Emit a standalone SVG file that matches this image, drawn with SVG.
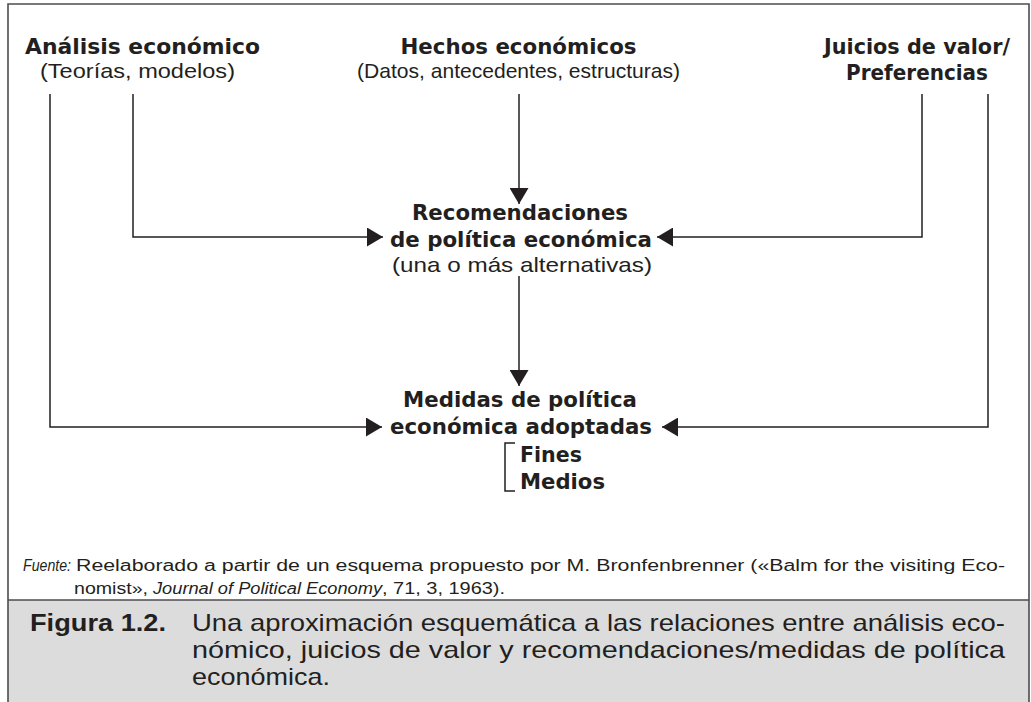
<svg xmlns="http://www.w3.org/2000/svg" width="1031" height="702" viewBox="0 0 1031 702">
<style>
.b{font-family:"DejaVu Sans","Liberation Sans",sans-serif;font-weight:bold;font-size:20.5px;fill:#231f20;text-anchor:middle}
.r{font-family:"Liberation Sans",Arial,sans-serif;font-size:21px;fill:#231f20;text-anchor:middle}
.s{font-family:"Liberation Sans",Arial,sans-serif;font-size:16px;fill:#231f20}
.i{font-style:italic}
.c{font-family:"Liberation Sans",Arial,sans-serif;font-size:24px;fill:#231f20}
.cb{font-weight:bold}
.ln{fill:none;stroke:#231f20;stroke-width:1.5}
.fr{fill:none;stroke:#4d4d4f;stroke-width:1.6}
</style>
<defs>
<marker id="ah" markerUnits="userSpaceOnUse" markerWidth="17" markerHeight="19" refX="16" refY="9.5" orient="auto">
<path d="M0,0 L16,9.5 L0,19 z" fill="#231f20"/>
</marker>
</defs>
<rect x="0" y="0" width="1031" height="702" fill="#ffffff"/>
<g id="frame">
<rect x="8" y="600" width="1021" height="102" fill="#dcdcdd"/>
<path class="fr" d="M8,702 V4 H1029 V702"/>
<path class="fr" d="M8,600 H1029"/>
</g>
<g id="connectors">
<path class="ln" d="M133,94 V237 H383" marker-end="url(#ah)"/>
<path class="ln" d="M50,94 V427 H382" marker-end="url(#ah)"/>
<path class="ln" d="M519,94 V204" marker-end="url(#ah)"/>
<path class="ln" d="M922,94 V237 H657" marker-end="url(#ah)"/>
<path class="ln" d="M988,94 V427 H662" marker-end="url(#ah)"/>
<path class="ln" d="M519,276 V386" marker-end="url(#ah)"/>
</g>
<g id="analisis">
<text class="b" x="142.5" y="54" textLength="235" lengthAdjust="spacingAndGlyphs">Análisis económico</text>
<text class="r" x="137.5" y="78" textLength="195" lengthAdjust="spacingAndGlyphs">(Teorías, modelos)</text>
</g>
<g id="hechos">
<text class="b" x="518.5" y="54" textLength="236" lengthAdjust="spacingAndGlyphs">Hechos económicos</text>
<text class="r" x="518.5" y="78" textLength="323" lengthAdjust="spacingAndGlyphs">(Datos, antecedentes, estructuras)</text>
</g>
<g id="juicios">
<text class="b" x="917" y="54" textLength="186" lengthAdjust="spacingAndGlyphs">Juicios de valor/</text>
<text class="b" x="917" y="80" textLength="142" lengthAdjust="spacingAndGlyphs">Preferencias</text>
</g>
<g id="recomendaciones">
<text class="b" x="520" y="220" textLength="216" lengthAdjust="spacingAndGlyphs">Recomendaciones</text>
<text class="b" x="521" y="247" textLength="262" lengthAdjust="spacingAndGlyphs">de política económica</text>
<text class="r" x="522" y="272" textLength="260" lengthAdjust="spacingAndGlyphs">(una o más alternativas)</text>
</g>
<g id="medidas">
<text class="b" x="520" y="407" textLength="234" lengthAdjust="spacingAndGlyphs">Medidas de política</text>
<text class="b" x="521" y="434" textLength="262" lengthAdjust="spacingAndGlyphs">económica adoptadas</text>
<path class="ln" d="M515,443 H505 V491 H515"/>
<text class="b" x="551" y="462" textLength="62" lengthAdjust="spacingAndGlyphs">Fines</text>
<text class="b" x="562.5" y="489" textLength="85" lengthAdjust="spacingAndGlyphs">Medios</text>
</g>
<g id="fuente">
<text class="s i" x="23" y="571" textLength="48" lengthAdjust="spacingAndGlyphs">Fuente:</text>
<text class="s" x="76" y="571" textLength="929" lengthAdjust="spacingAndGlyphs">Reelaborado a partir de un esquema propuesto por M. Bronfenbrenner («Balm for the visiting Eco-</text>
<text class="s" x="74" y="594" textLength="74" lengthAdjust="spacingAndGlyphs">nomist»,</text>
<text class="s i" x="153" y="594" textLength="229" lengthAdjust="spacingAndGlyphs">Journal of Political Economy</text>
<text class="s" x="382" y="594" textLength="123" lengthAdjust="spacingAndGlyphs">, 71, 3, 1963).</text>
</g>
<g id="caption">
<text class="c cb" x="30" y="631" textLength="136" lengthAdjust="spacingAndGlyphs">Figura 1.2.</text>
<text class="c" x="192" y="631" textLength="813" lengthAdjust="spacingAndGlyphs">Una aproximación esquemática a las relaciones entre análisis eco-</text>
<text class="c" x="192" y="658" textLength="813" lengthAdjust="spacingAndGlyphs">nómico, juicios de valor y recomendaciones/medidas de política</text>
<text class="c" x="192" y="685" textLength="138" lengthAdjust="spacingAndGlyphs">económica.</text>
</g>
</svg>
